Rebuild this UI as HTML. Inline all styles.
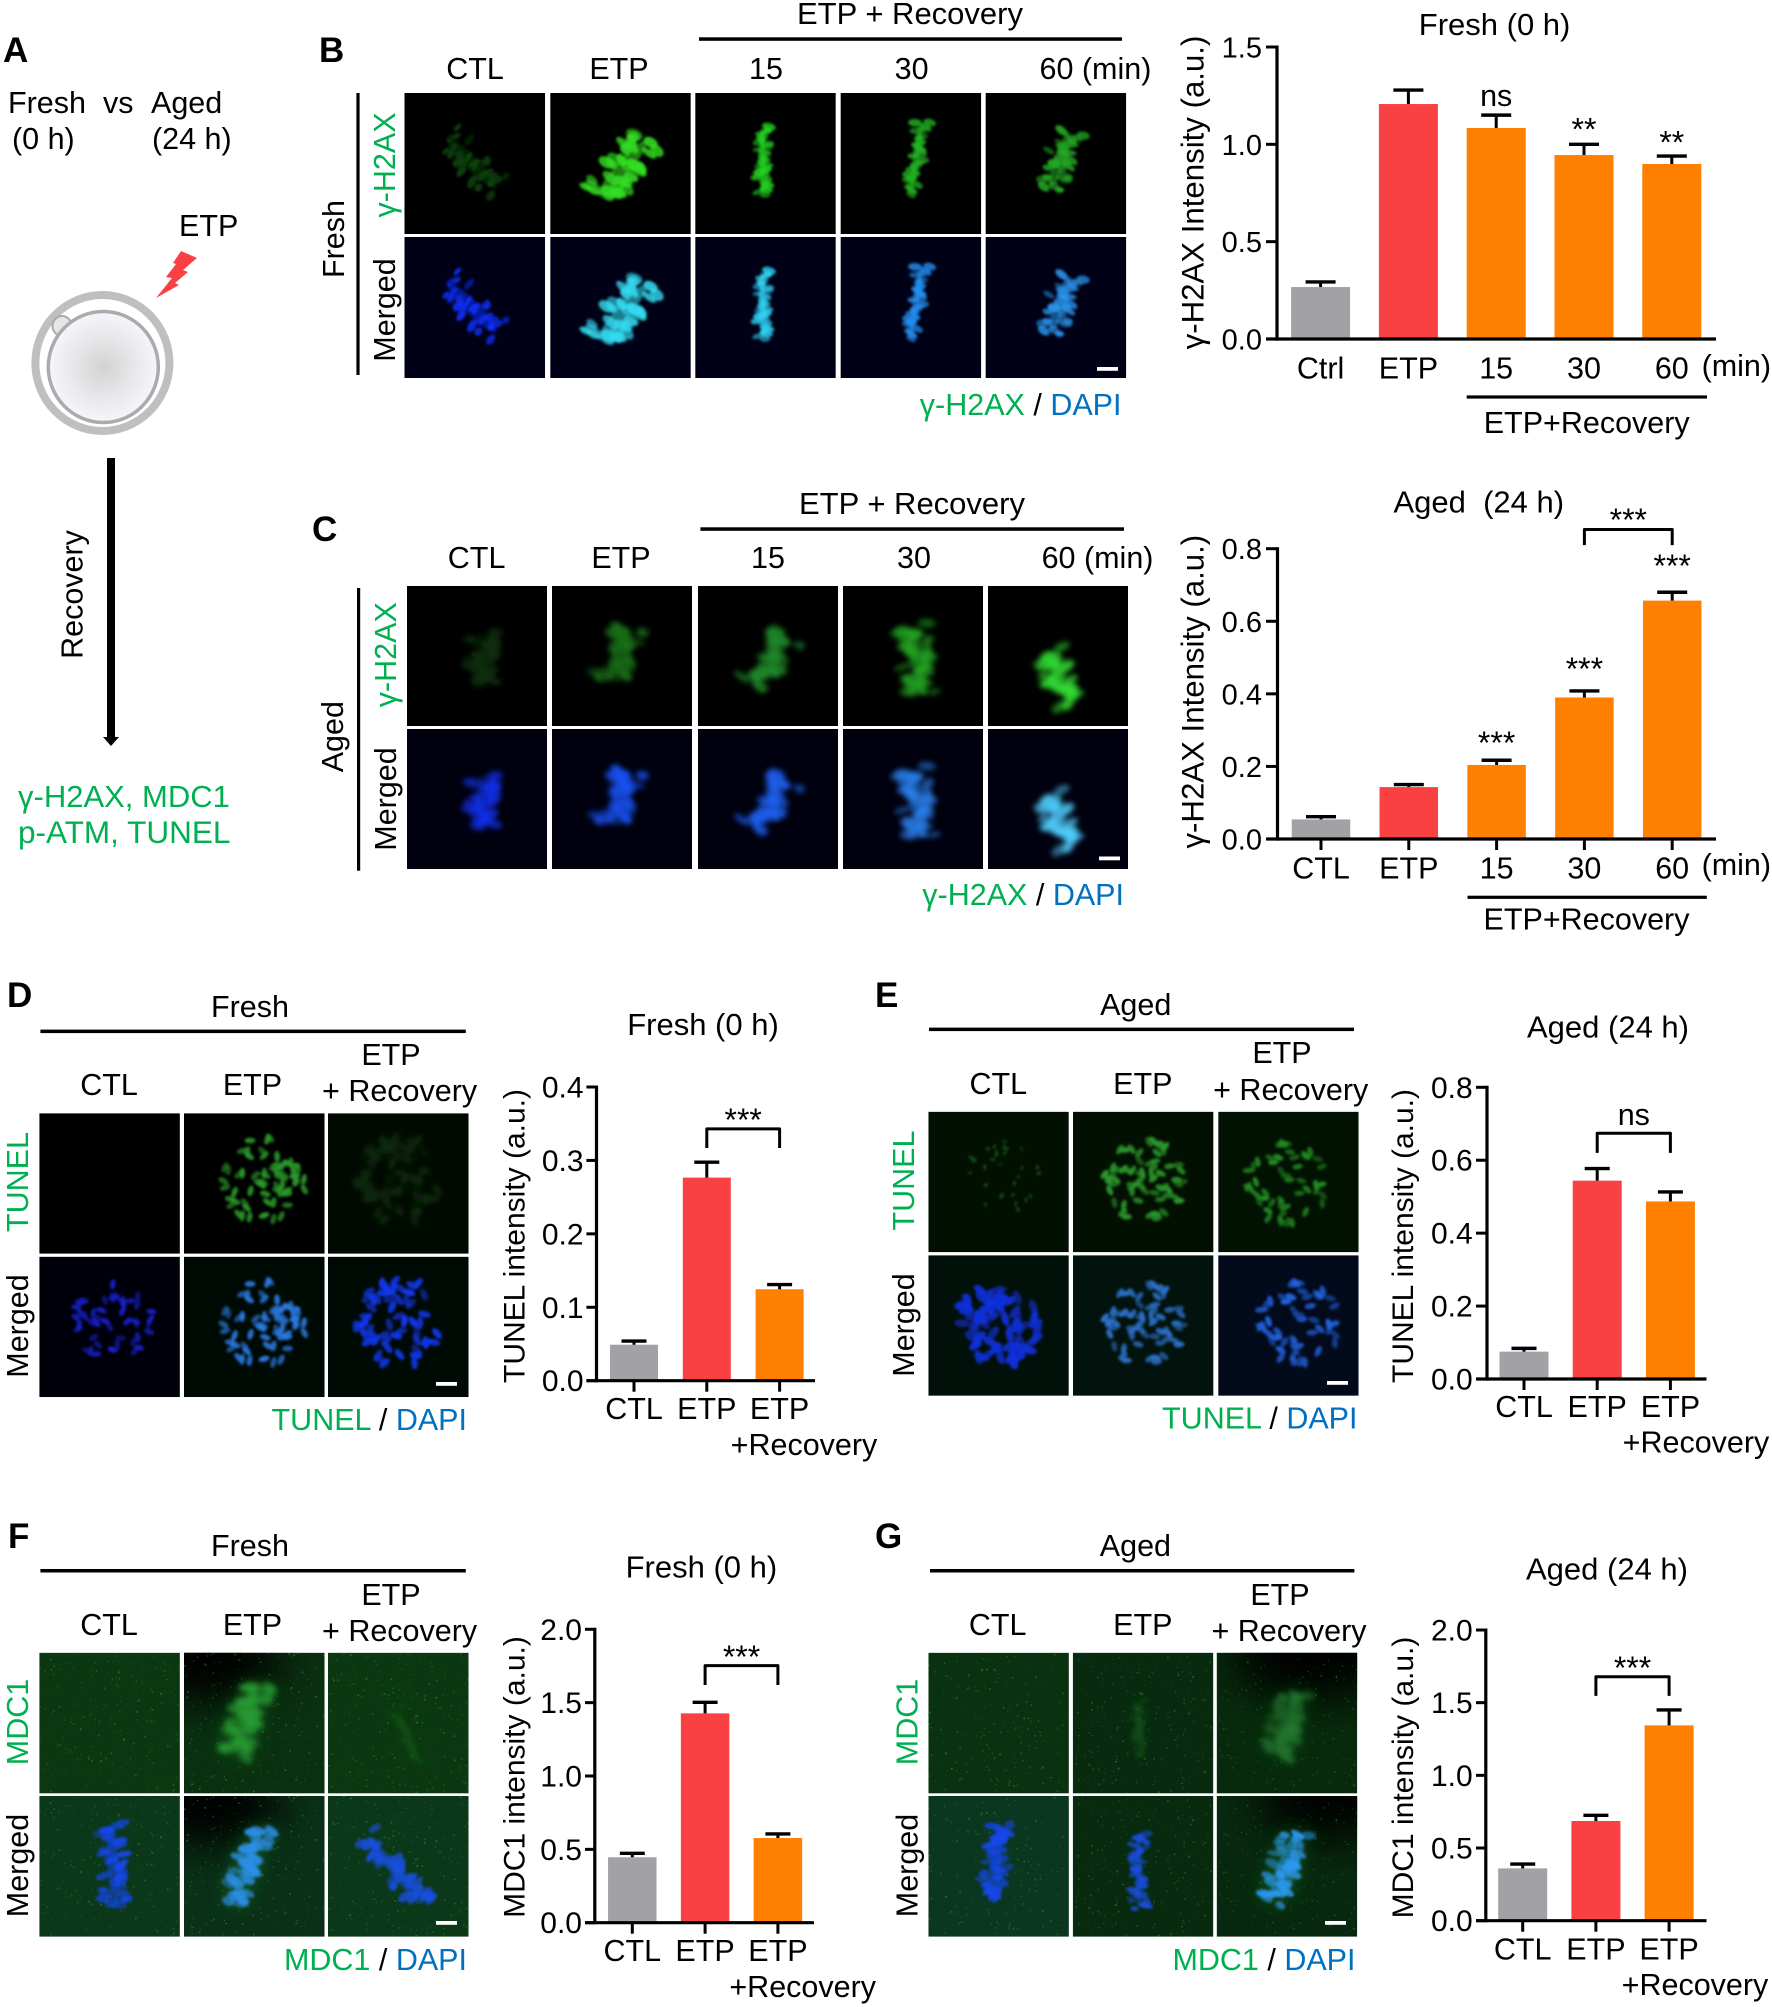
<!DOCTYPE html>
<html lang="en">
<head>
<meta charset="utf-8">
<title>ETP recovery figure</title>
<style>
html,body{margin:0;padding:0;background:#fff;}
#figure{display:block;font-family:"Liberation Sans",sans-serif;font-size:30.5px;}
.pl{font-size:35px;font-weight:bold;}
.g{fill:#00b050;}
.b{fill:#0070c0;}
.ct{font-size:31px;}
.yt{font-size:30px;}
.yt2{font-size:31.2px;}
</style>
</head>
<body>
<svg id="figure" xmlns="http://www.w3.org/2000/svg" width="1772" height="2007" viewBox="0 0 1772 2007">
<defs>
<filter id="f1" x="-30%" y="-30%" width="160%" height="160%"><feGaussianBlur stdDeviation="1.3"/></filter>
<filter id="f4" x="-30%" y="-30%" width="160%" height="160%"><feGaussianBlur stdDeviation="2.6"/></filter>
<filter id="f2" x="-30%" y="-30%" width="160%" height="160%"><feGaussianBlur stdDeviation="9"/></filter>
<filter id="f3" x="-60%" y="-60%" width="220%" height="220%"><feGaussianBlur stdDeviation="22"/></filter>
<radialGradient id="eggFill"><stop offset="0" stop-color="#d2d2d2"/><stop offset="0.6" stop-color="#e9e9ec"/><stop offset="1" stop-color="#f5f6fb"/></radialGradient>
</defs>
<rect width="1772" height="2007" fill="#fff"/>

<!-- Panel A -->
<g>
<text class="pl" x="3" y="62">A</text>
<text x="8" y="113">Fresh</text>
<text x="103" y="113">vs</text>
<text x="151" y="113">Aged</text>
<text x="12" y="149">(0 h)</text>
<text x="152" y="149">(24 h)</text>
<text x="179" y="236">ETP</text>
<polygon points="181,251 197,258 183,270 188,272 175,283 179,285 156,298 172,278 166,277 176,264 173,263" fill="#f94144"/>
<ellipse cx="102.4" cy="363" rx="67" ry="68" fill="#fff" stroke="#bfbfbf" stroke-width="8"/>
<ellipse cx="62" cy="326" rx="9.5" ry="10" fill="#e6e6e6" stroke="#aaa" stroke-width="2"/>
<ellipse cx="103.3" cy="367" rx="55" ry="55.5" fill="url(#eggFill)" stroke="#ababab" stroke-width="3.5"/>
<rect x="107" y="458" width="8" height="281" fill="#000"/>
<polygon points="103,737 119,737 111,746" fill="#000"/>
<text transform="translate(82.7,594.5) rotate(-90)" text-anchor="middle">Recovery</text>
<text class="g" x="18" y="807" style="font-size:31px">γ-H2AX, MDC1</text>
<text class="g" x="18" y="843" style="font-size:31.5px">p-ATM, TUNEL</text>
</g>

<!-- Panel B labels -->
<g>
<text class="pl" x="319" y="62">B</text>
<text x="910" y="24" text-anchor="middle" style="font-size:31px">ETP + Recovery</text>
<rect x="699" y="37.3" width="423" height="3.5"/>
<text x="475" y="79" text-anchor="middle">CTL</text>
<text x="619" y="79" text-anchor="middle">ETP</text>
<text x="766" y="79" text-anchor="middle">15</text>
<text x="911.6" y="79" text-anchor="middle">30</text>
<text x="1039.5" y="79">60 (min)</text>
<rect x="356.4" y="93" width="3.2" height="282"/>
<text transform="translate(344,239) rotate(-90)" text-anchor="middle">Fresh</text>
<text class="g" transform="translate(395,165) rotate(-90)" text-anchor="middle">γ-H2AX</text>
<text transform="translate(395,310) rotate(-90)" text-anchor="middle">Merged</text>
<text x="1121.5" y="415" text-anchor="end"><tspan class="g">γ-H2AX</tspan> / <tspan class="b">DAPI</tspan></text>
</g>

<!-- Panel C labels -->
<g>
<text class="pl" x="312" y="541">C</text>
<text x="912" y="514" text-anchor="middle" style="font-size:31px">ETP + Recovery</text>
<rect x="700.4" y="527.3" width="423.6" height="3.5"/>
<text x="476.6" y="568" text-anchor="middle">CTL</text>
<text x="621" y="568" text-anchor="middle">ETP</text>
<text x="768" y="568" text-anchor="middle">15</text>
<text x="914" y="568" text-anchor="middle">30</text>
<text x="1041.6" y="568">60 (min)</text>
<rect x="357" y="588" width="3.2" height="282.7"/>
<text transform="translate(343,736.7) rotate(-90)" text-anchor="middle">Aged</text>
<text class="g" transform="translate(396,654.7) rotate(-90)" text-anchor="middle">γ-H2AX</text>
<text transform="translate(396,799) rotate(-90)" text-anchor="middle">Merged</text>
<text x="1124" y="905" text-anchor="end"><tspan class="g">γ-H2AX</tspan> / <tspan class="b">DAPI</tspan></text>
</g>

<!-- Panel D labels -->
<g>
<text class="pl" x="7" y="1007">D</text>
<text x="250" y="1017" text-anchor="middle">Fresh</text>
<rect x="40.4" y="1029.6" width="425.4" height="3.5"/>
<text x="109" y="1095" text-anchor="middle">CTL</text>
<text x="252.5" y="1095" text-anchor="middle">ETP</text>
<text x="391" y="1065" text-anchor="middle">ETP</text>
<text x="399.6" y="1101" text-anchor="middle">+ Recovery</text>
<text class="g" transform="translate(28,1182) rotate(-90)" text-anchor="middle">TUNEL</text>
<text transform="translate(28,1326) rotate(-90)" text-anchor="middle">Merged</text>
<text x="467" y="1430" text-anchor="end"><tspan class="g">TUNEL</tspan> / <tspan class="b">DAPI</tspan></text>
</g>

<!-- Panel E labels -->
<g>
<text class="pl" x="875" y="1007">E</text>
<text x="1135.7" y="1015" text-anchor="middle">Aged</text>
<rect x="929" y="1027.6" width="425" height="3.5"/>
<text x="998.3" y="1094" text-anchor="middle">CTL</text>
<text x="1142.8" y="1094" text-anchor="middle">ETP</text>
<text x="1282" y="1063" text-anchor="middle">ETP</text>
<text x="1290.7" y="1100" text-anchor="middle">+ Recovery</text>
<text class="g" transform="translate(914,1180.5) rotate(-90)" text-anchor="middle">TUNEL</text>
<text transform="translate(914,1325) rotate(-90)" text-anchor="middle">Merged</text>
<text x="1357.5" y="1428.7" text-anchor="end"><tspan class="g">TUNEL</tspan> / <tspan class="b">DAPI</tspan></text>
</g>

<!-- Panel F labels -->
<g>
<text class="pl" x="8" y="1548">F</text>
<text x="250" y="1556" text-anchor="middle">Fresh</text>
<rect x="40.4" y="1569" width="425.4" height="3.5"/>
<text x="109" y="1635" text-anchor="middle">CTL</text>
<text x="252.5" y="1635" text-anchor="middle">ETP</text>
<text x="391" y="1605" text-anchor="middle">ETP</text>
<text x="399.6" y="1641" text-anchor="middle">+ Recovery</text>
<text class="g" transform="translate(28,1722) rotate(-90)" text-anchor="middle">MDC1</text>
<text transform="translate(28,1865.5) rotate(-90)" text-anchor="middle">Merged</text>
<text x="467" y="1970" text-anchor="end"><tspan class="g">MDC1</tspan> / <tspan class="b">DAPI</tspan></text>
</g>

<!-- Panel G labels -->
<g>
<text class="pl" x="875" y="1548">G</text>
<text x="1135.4" y="1556" text-anchor="middle">Aged</text>
<rect x="930" y="1569" width="424.4" height="3.5"/>
<text x="997.7" y="1635" text-anchor="middle">CTL</text>
<text x="1142.8" y="1635" text-anchor="middle">ETP</text>
<text x="1280" y="1605" text-anchor="middle">ETP</text>
<text x="1289" y="1641" text-anchor="middle">+ Recovery</text>
<text class="g" transform="translate(917.5,1722) rotate(-90)" text-anchor="middle">MDC1</text>
<text transform="translate(917.5,1865.5) rotate(-90)" text-anchor="middle">Merged</text>
<text x="1355.5" y="1970" text-anchor="end"><tspan class="g">MDC1</tspan> / <tspan class="b">DAPI</tspan></text>
</g>

<!-- Chart static labels -->
<g>
<text class="ct" x="1494.6" y="35" text-anchor="middle">Fresh (0 h)</text>
<text class="yt2" transform="translate(1203.6,192.5) rotate(-90)" text-anchor="middle">γ-H2AX Intensity (a.u.)</text>
<text x="1701.6" y="376">(min)</text>
<rect x="1466.7" y="395.4" width="240.3" height="3.2"/>
<text x="1586.7" y="433" text-anchor="middle">ETP+Recovery</text>
</g>
<g>
<text class="ct" x="1478.8" y="512.7" text-anchor="middle" xml:space="preserve">Aged  (24 h)</text>
<text class="yt2" transform="translate(1203.6,691.7) rotate(-90)" text-anchor="middle">γ-H2AX Intensity (a.u.)</text>
<text x="1701.6" y="875">(min)</text>
<rect x="1467.5" y="895.7" width="239.3" height="3.2"/>
<text x="1586.5" y="929.3" text-anchor="middle">ETP+Recovery</text>
</g>
<g>
<text class="ct" x="703" y="1035" text-anchor="middle">Fresh (0 h)</text>
<text class="yt" transform="translate(524.7,1236) rotate(-90)" text-anchor="middle">TUNEL intensity (a.u.)</text>
<text x="804" y="1455" text-anchor="middle">+Recovery</text>
</g>
<g>
<text class="ct" x="1608" y="1037.7" text-anchor="middle">Aged (24 h)</text>
<text class="yt" transform="translate(1413,1236) rotate(-90)" text-anchor="middle">TUNEL intensity (a.u.)</text>
<text x="1696" y="1452.7" text-anchor="middle">+Recovery</text>
</g>
<g>
<text class="ct" x="701.4" y="1577.7" text-anchor="middle">Fresh (0 h)</text>
<text class="yt" transform="translate(524.7,1777) rotate(-90)" text-anchor="middle">MDC1 intensity (a.u.)</text>
<text x="802.7" y="1997" text-anchor="middle">+Recovery</text>
</g>
<g>
<text class="ct" x="1607" y="1579.3" text-anchor="middle">Aged (24 h)</text>
<text class="yt" transform="translate(1413,1777.5) rotate(-90)" text-anchor="middle">MDC1 intensity (a.u.)</text>
<text x="1695" y="1995" text-anchor="middle">+Recovery</text>
</g>

<g id="images"></g>
<g id="chart-b"></g>
<g id="chart-c"></g>
<g id="chart-d"></g>
<g id="chart-e"></g>
<g id="chart-f"></g>
<g id="chart-g"></g>
</svg>

<script>
/* ---------- chart data ---------- */
const chartBCategories = ['Ctrl', 'ETP', '15', '30', '60'];
const chartBValues = [0.267, 1.207, 1.084, 0.945, 0.899];
const chartBErrors = [0.026, 0.072, 0.066, 0.055, 0.041];
const chartBTicks = ['0.0', '0.5', '1.0', '1.5'];
const chartBMarks = ['', '', 'ns', '**', '**'];
const chartBMarkLevels = [0, 0, 1.197, 1.004, 0.9375];

const chartCCategories = ['CTL', 'ETP', '15', '30', '60'];
const chartCValues = [0.054, 0.143, 0.204, 0.39, 0.657];
const chartCErrors = [0.0075, 0.007, 0.013, 0.018, 0.023];
const chartCTicks = ['0.0', '0.2', '0.4', '0.6', '0.8'];
const chartCMarks = ['', '', '***', '***', '***'];
const chartCMarkLevels = [0, 0, 0.226, 0.43, 0.714];

const chartDCategories = ['CTL', 'ETP', 'ETP'];
const chartDValues = [0.049, 0.2766, 0.1245];
const chartDErrors = [0.005, 0.021, 0.0065];
const chartDTicks = ['0.0', '0.1', '0.2', '0.3', '0.4'];

const chartECategories = ['CTL', 'ETP', 'ETP'];
const chartEValues = [0.075, 0.544, 0.487];
const chartEErrors = [0.009, 0.033, 0.026];
const chartETicks = ['0.0', '0.2', '0.4', '0.6', '0.8'];

const chartFCategories = ['CTL', 'ETP', 'ETP'];
const chartFValues = [0.446, 1.427, 0.577];
const chartFErrors = [0.027, 0.075, 0.028];
const chartFTicks = ['0.0', '0.5', '1.0', '1.5', '2.0'];

const chartGCategories = ['CTL', 'ETP', 'ETP'];
const chartGValues = [0.36, 0.686, 1.344];
const chartGErrors = [0.03, 0.039, 0.106];
const chartGTicks = ['0.0', '0.5', '1.0', '1.5', '2.0'];

/* ---------- helpers ---------- */
const NS = 'http://www.w3.org/2000/svg';
function mk(tag, attrs, parent) {
  const e = document.createElementNS(NS, tag);
  for (const k in attrs) e.setAttribute(k, attrs[k]);
  if (parent) parent.appendChild(e);
  return e;
}
function barColor(i) {
  return i === 0 ? '#a2a1a5' : i === 1 ? '#f94144' : '#ff7f00';
}
function markY(label, y) {
  return label.indexOf('*') >= 0 ? y - 3 : y;
}
function markSize(label) {
  return label.indexOf('*') >= 0 ? '32px' : '30.5px';
}

function drawBarChart(hostId, categories, values, errors, ticks, marks, markLevels, o) {
  const host = document.getElementById(hostId);
  const yScale = v => o.y0 - (v / o.yMax) * (o.y0 - o.yTop);
  const xScale = i => o.firstCenter + i * o.step;

  values.forEach((v, i) => {
    const bar = mk('rect', {x: xScale(i) - o.barW / 2, y: yScale(v), width: o.barW, height: o.y0 - yScale(v), fill: barColor(i)}, host);
    
    

    const stem = mk('line', {x1: xScale(i), x2: xScale(i), y1: yScale(v), y2: yScale(v + errors[i]), stroke: '#000', 'stroke-width': 3}, host);
    
    

    const cap = mk('line', {x1: xScale(i) - o.capW / 2, x2: xScale(i) + o.capW / 2, y1: yScale(v + errors[i]), y2: yScale(v + errors[i]), stroke: '#000', 'stroke-width': 3.4}, host);
    
    
  });

  const yAxis = mk('line', {x1: o.axisX, x2: o.axisX, y1: o.yTop - 1.5, y2: o.y0 + 1.6, stroke: '#000', 'stroke-width': 3.2}, host);
  
  

  const xAxis = mk('line', {x1: o.tickLeft, x2: o.xEnd, y1: o.y0, y2: o.y0, stroke: '#000', 'stroke-width': 3.2}, host);
  
  

  ticks.forEach(t => {
    const v = parseFloat(t);
    const tick = mk('line', {x1: o.tickLeft, x2: o.axisX, y1: yScale(v), y2: yScale(v), stroke: '#000', 'stroke-width': 3}, host);
    
    

    const lab = mk('text', {x: o.labelRight, y: yScale(v) + 10.5, 'text-anchor': 'end', style: 'font-size:' + o.tickFont + 'px'}, host);
    lab.textContent = t;
    
    
  });

  categories.forEach((c, i) => {
    if (o.xTicks) {
      const tick = mk('line', {x1: xScale(i), x2: xScale(i), y1: o.y0, y2: o.y0 + 11, stroke: '#000', 'stroke-width': 3}, host);
      
      
    }
    const lab = mk('text', {x: xScale(i), y: o.xLabelY, 'text-anchor': 'middle'}, host);
    lab.textContent = c;
    
    
  });

  (marks || []).forEach((m, i) => {
    if (!m) return;
    const t = mk('text', {x: xScale(i), y: markY(m, yScale(markLevels[i])), 'text-anchor': 'middle', style: 'font-size:' + markSize(m)}, host);
    t.textContent = m;
    
    
  });

  if (o.bracket) {
    const br = o.bracket;
    const x1 = xScale(br.from), x2 = xScale(br.to);
    const yT = yScale(br.top), yB = yScale(br.leg);
    const path = mk('path', {d: 'M' + x1 + ' ' + yB + 'V' + yT + 'H' + x2 + 'V' + yB, fill: 'none', stroke: '#000', 'stroke-width': 3, 'stroke-linejoin': 'round'}, host);
    
    

    const t = mk('text', {x: (x1 + x2) / 2, y: markY(br.label, yScale(br.labelLevel)), 'text-anchor': 'middle', style: 'font-size:' + markSize(br.label)}, host);
    t.textContent = br.label;
    
    
  }
}

drawBarChart('chart-b', chartBCategories, chartBValues, chartBErrors, chartBTicks, chartBMarks, chartBMarkLevels,
  {axisX: 1277, y0: 339, yTop: 47, yMax: 1.5, firstCenter: 1320.6, step: 87.8, barW: 59, capW: 30, tickLeft: 1266, xEnd: 1716, labelRight: 1262, tickFont: 29, xLabelY: 378.3, xTicks: false});
drawBarChart('chart-c', chartCCategories, chartCValues, chartCErrors, chartCTicks, chartCMarks, chartCMarkLevels,
  {axisX: 1277.5, y0: 839, yTop: 548.7, yMax: 0.8, firstCenter: 1321, step: 87.8, barW: 58.5, capW: 30, tickLeft: 1266, xEnd: 1716, labelRight: 1262, tickFont: 29, xLabelY: 878.3, xTicks: true,
   bracket: {from: 3, to: 4, top: 0.853, leg: 0.81, label: '***', labelLevel: 0.841}});
drawBarChart('chart-d', chartDCategories, chartDValues, chartDErrors, chartDTicks, null, null,
  {axisX: 596.5, y0: 1380.7, yTop: 1087, yMax: 0.4, firstCenter: 634, step: 72.8, barW: 48, capW: 25, tickLeft: 586.4, xEnd: 815, labelRight: 583.6, tickFont: 30, xLabelY: 1419, xTicks: true,
   bracket: {from: 1, to: 2, top: 0.343, leg: 0.317, label: '***', labelLevel: 0.336}});
drawBarChart('chart-e', chartECategories, chartEValues, chartEErrors, chartETicks, null, null,
  {axisX: 1487, y0: 1379, yTop: 1087.3, yMax: 0.8, firstCenter: 1524, step: 73.2, barW: 49, capW: 25, tickLeft: 1476, xEnd: 1706.5, labelRight: 1472.7, tickFont: 30, xLabelY: 1417, xTicks: true,
   bracket: {from: 1, to: 2, top: 0.674, leg: 0.62, label: 'ns', labelLevel: 0.696}});
drawBarChart('chart-f', chartFCategories, chartFValues, chartFErrors, chartFTicks, null, null,
  {axisX: 594.8, y0: 1922.7, yTop: 1629.3, yMax: 2, firstCenter: 632.3, step: 72.8, barW: 48.5, capW: 25, tickLeft: 585, xEnd: 814, labelRight: 582, tickFont: 30, xLabelY: 1961, xTicks: true,
   bracket: {from: 1, to: 2, top: 1.752, leg: 1.62, label: '***', labelLevel: 1.716}});
drawBarChart('chart-g', chartGCategories, chartGValues, chartGErrors, chartGTicks, null, null,
  {axisX: 1485.8, y0: 1920.7, yTop: 1630, yMax: 2, firstCenter: 1522.7, step: 73.2, barW: 49, capW: 25, tickLeft: 1476, xEnd: 1706.5, labelRight: 1472.7, tickFont: 30, xLabelY: 1959.3, xTicks: true,
   bracket: {from: 1, to: 2, top: 1.678, leg: 1.547, label: '***', labelLevel: 1.642}});

/* ---------- microscopy images (painted texture) ---------- */
function rng(seed) {
  return () => (seed = (seed * 16807) % 2147483647) / 2147483647;
}
function plateShape(x1, y1, x2, y2, wd, n, sz) {
  return (g, w, h, seed, color) => {
    const r = rng(seed);
    const dx = (x2 - x1) * w, dy = (y2 - y1) * h;
    const len = Math.hypot(dx, dy), ang = Math.atan2(dy, dx);
    const deg = ang * 180 / Math.PI;
    const mx = (x1 + x2) / 2 * w, my = (y1 + y2) / 2 * h;
    mk('ellipse', {cx: mx, cy: my, rx: len / 2.1, ry: wd * w * 0.2, fill: color, opacity: 0.55, transform: 'rotate(' + deg + ' ' + mx + ' ' + my + ')'}, g);
    for (let i = 0; i < n; i++) {
      const t = i / (n - 1);
      const off = (r() - 0.5) * wd * w * 0.9;
      const cx = x1 * w + dx * t - Math.sin(ang) * off;
      const cy = y1 * h + dy * t + Math.cos(ang) * off;
      const rot = deg + 90 + (r() - 0.5) * 40;
      mk('ellipse', {cx: cx, cy: cy, rx: sz * (0.9 + 0.7 * r()), ry: sz * (0.5 + 0.35 * r()), fill: color, opacity: 0.45 + 0.5 * r(), transform: 'rotate(' + rot + ' ' + cx + ' ' + cy + ')'}, g);
    }
  };
}
function clusterShape(cxF, cyF, rad, n, sz) {
  return (g, w, h, seed, color) => {
    const r = rng(seed);
    for (let i = 0; i < n; i++) {
      const a = r() * Math.PI * 2, d = rad * w * Math.sqrt(r());
      const cx = cxF * w + Math.cos(a) * d, cy = cyF * h + Math.sin(a) * d;
      mk('ellipse', {cx: cx, cy: cy, rx: sz * 1.15, ry: sz * 0.6, fill: color, opacity: 0.5 + 0.5 * r(), transform: 'rotate(' + Math.floor(r() * 180) + ' ' + cx + ' ' + cy + ')'}, g);
    }
  };
}
const imagesHost = document.getElementById('images');
function paintCell(x, y, w, h, c, seed) {
  const cell = mk('svg', {x: x, y: y, width: w, height: h, viewBox: '0 0 ' + w + ' ' + h}, imagesHost);
  
  
  mk('rect', {width: w, height: h, fill: c.bg}, cell);
  if (c.dark) {
    const dark = mk('g', {filter: 'url(#f3)'}, cell);
    mk('ellipse', {cx: c.dark[0] * w, cy: c.dark[1] * h, rx: c.dark[2] * w, ry: c.dark[3] * h, fill: '#000'}, dark);
  }
  if (c.speckle) {
    const r = rng(seed + 77);
    for (let i = 0; i < 240; i++) {
      mk('circle', {cx: r() * w, cy: r() * h, r: 0.5 + r() * 0.6, fill: c.speckle, opacity: 0.12 + r() * 0.4}, cell);
    }
  }
  if (c.halo && c.shape) {
    const hg = mk('g', {filter: 'url(#f2)', opacity: 0.7}, cell);
    c.shape(hg, w, h, seed, c.halo);
  }
  if (c.shape) {
    const g = mk('g', {filter: c.soft ? 'url(#f4)' : 'url(#f1)'}, cell);
    c.shape(g, w, h, seed, c.color);
  }
}
function paintPlate(xs, rowTop, rowBottom, w, h, cols, startSeed) {
  cols.forEach((col, i) => {
    paintCell(xs[i], rowTop, w, h, col[0], startSeed + i * 13);
    paintCell(xs[i], rowBottom, w, h, col[1], startSeed + i * 13);
  });
}
function scaleBar(x, y) {
  const bar = mk('rect', {x: x, y: y, width: 21, height: 3.8, fill: '#fff'}, imagesHost);
  
  
}

const mB = {bg: '#000016'}, mK = {bg: '#00000e'};
const soft = {soft: true};
function S(base, shape, color, extra) { return Object.assign({}, base, {shape: shape, color: color}, extra || {}); }

/* Panel B */
{
  const s = [plateShape(.3, .32, .66, .68, .24, 26, 4.5), plateShape(.34, .74, .69, .33, .26, 34, 6.5),
             plateShape(.47, .24, .48, .72, .12, 28, 4.5), plateShape(.58, .2, .49, .72, .12, 28, 4.5),
             plateShape(.6, .27, .46, .68, .22, 30, 5)];
  paintPlate([404.5, 550.2, 695.2, 840.6, 985.6], 93, 237, 140.6, 141, [
    [S({bg: '#000'}, s[0], '#0a440a'), S(mB, s[0], '#0a30ff')],
    [S({bg: '#000'}, s[1], '#34e022'), S(mB, s[1], '#34dcf0')],
    [S({bg: '#000'}, s[2], '#22d022'), S(mB, s[2], '#30d0f2')],
    [S({bg: '#000'}, s[3], '#22b422'), S(mB, s[3], '#2490f2')],
    [S({bg: '#000'}, s[4], '#24ab24'), S(mB, s[4], '#2a94ea')]
  ], 11);
  scaleBar(1097, 367);
}
/* Panel C */
{
  const s = [plateShape(.53, .34, .56, .7, .24, 26, 6), plateShape(.55, .29, .4, .68, .24, 28, 6),
             plateShape(.64, .36, .38, .7, .24, 28, 6), plateShape(.48, .29, .58, .77, .27, 30, 6),
             plateShape(.43, .48, .6, .84, .24, 26, 6)];
  paintPlate([407, 552, 698, 843, 988], 586, 729, 140, 140, [
    [S({bg: '#000'}, s[0], '#0a300a', soft), S(mK, s[0], '#1030e8', soft)],
    [S({bg: '#000'}, s[1], '#1a701a', soft), S(mK, s[1], '#1a50f0', soft)],
    [S({bg: '#000'}, s[2], '#1f8a2a', soft), S(mK, s[2], '#1d60f0', soft)],
    [S({bg: '#000'}, s[3], '#22a522', soft), S(mK, s[3], '#2a80ee', soft)],
    [S({bg: '#000'}, s[4], '#32e032', soft), S(mK, s[4], '#50d0ff', soft)]
  ], 211);
  scaleBar(1099, 856.5);
}
/* Panel D */
{
  const a = clusterShape(.52, .47, .29, 46, 4.6), b = clusterShape(.57, .48, .31, 64, 4.8), c = clusterShape(.5, .47, .33, 60, 5.6);
  paintPlate([39.3, 184, 328], 1113.3, 1256.7, 140.6, 140.4, [
    [{bg: '#000'}, S({bg: '#00000a'}, a, '#1420c8')],
    [S({bg: '#000'}, b, '#2a962a'), S({bg: '#000a04'}, b, '#2a78e0')],
    [S({bg: '#010a01'}, c, '#0a2a0a', soft), S({bg: '#000a04'}, c, '#1236e8')]
  ], 409);
  scaleBar(436, 1382);
}
/* Panel E */
{
  const a1 = clusterShape(.53, .46, .28, 30, 2.2), a2 = clusterShape(.49, .51, .3, 70, 6.5);
  const b = clusterShape(.51, .49, .29, 62, 4.8), c1 = clusterShape(.5, .51, .31, 50, 4.6), c2 = clusterShape(.59, .48, .31, 50, 5);
  paintPlate([928.4, 1073, 1218.2], 1111.7, 1255.3, 140.4, 140.5, [
    [S({bg: '#021002'}, a1, '#1c5a1c'), S({bg: '#02100a'}, a2, '#1030d8')],
    [S({bg: '#021002'}, b, '#2a962a'), S({bg: '#02120c'}, b, '#2a70c8')],
    [S({bg: '#021202'}, c1, '#228a22'), S({bg: '#020a1c'}, c2, '#2060d8')]
  ], 617);
  scaleBar(1327, 1381);
}
/* Panel F */
{
  const tg = {bg: '#0b3810', speckle: '#2a9a35'};
  const mg = {bg: '#0b3818', speckle: '#2a9a35'};
  paintPlate([39.3, 184, 328], 1652.7, 1796, 140.6, 140.7, [
    [tg, S(mg, plateShape(.5, .2, .55, .78, .2, 30, 5.5), '#1446ee')],
    [S({bg: '#0a3010', speckle: '#2a9a35', dark: [.15, .05, .55, .3]}, plateShape(.52, .22, .36, .72, .22, 32, 6), '#269a32', {halo: '#1a6f22', soft: true}),
     S({bg: '#0a3018', speckle: '#2a9a35', dark: [.15, .05, .55, .3]}, plateShape(.55, .22, .35, .76, .18, 30, 6), '#2a8fe8', {halo: '#1a6f22'})],
    [S(tg, plateShape(.48, .4, .65, .78, .12, 12, 3), '#125a1a', soft), S(mg, plateShape(.27, .28, .68, .78, .18, 30, 5.5), '#1a4fe8')]
  ], 823);
  scaleBar(436, 1921);
}
/* Panel G */
{
  const tg = {bg: '#0a3210', speckle: '#2a9a35'};
  const mg = {bg: '#0b3620', speckle: '#2a9a35'};
  const dk = {bg: '#082a0e', speckle: '#2a9a35'};
  paintPlate([928.4, 1072.8, 1216.7], 1652.7, 1796, 140.5, 140.7, [
    [tg, S(mg, plateShape(.5, .2, .46, .72, .18, 30, 5.5), '#1447ee')],
    [S(dk, plateShape(.45, .35, .5, .72, .12, 14, 3), '#175e1c', soft), S(dk, plateShape(.47, .27, .47, .8, .12, 28, 4.5), '#1a4fe8')],
    [S({bg: '#072a0c', speckle: '#1f7a28', dark: [.7, .02, .6, .3]}, plateShape(.56, .28, .42, .72, .2, 24, 6), '#22752e', {halo: '#145a1c', soft: true}),
     S({bg: '#07280e', speckle: '#1f7a28', dark: [.8, .02, .5, .28]}, plateShape(.57, .25, .38, .75, .2, 30, 5.5), '#2a98ee', {halo: '#1a6f22'})]
  ], 1031);
  scaleBar(1325, 1921);
}
</script>
</body>
</html>
